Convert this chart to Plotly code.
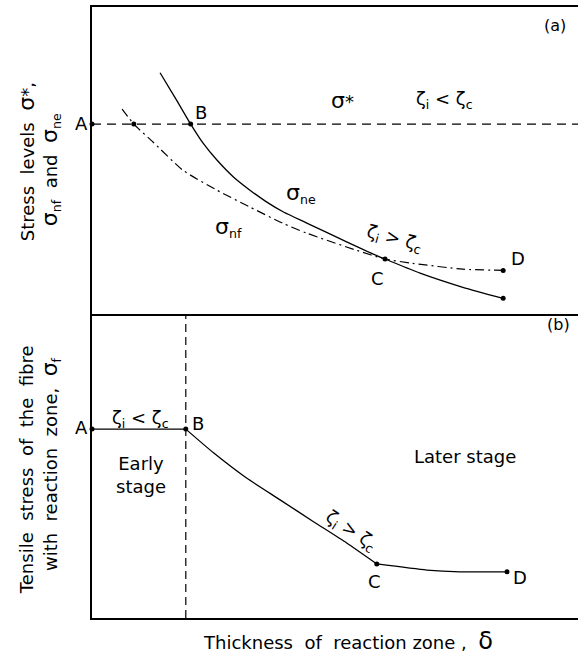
import plotly.graph_objects as go

# ---- data (arbitrary units: thickness delta 0..10, stress 0..10) ----
sigma_star_level = 6.19
sigma_star_x = [0.0, 10.0]

sne_x = [1.40, 1.74, 2.03, 2.29, 2.57, 2.91, 3.25, 3.59, 3.94, 4.42, 5.25, 5.93, 6.03, 6.75, 7.63, 8.46]
sne_y = [7.86, 6.97, 6.19, 5.56, 5.02, 4.47, 4.04, 3.66, 3.33, 2.97, 2.35, 1.86, 1.80, 1.34, 0.88, 0.52]

snf_x = [0.62, 0.86, 1.26, 1.87, 2.57, 3.25, 3.93, 4.42, 5.45, 6.03, 6.60, 7.63, 8.46]
snf_y = [6.68, 6.19, 5.60, 4.69, 4.04, 3.49, 2.96, 2.64, 2.08, 1.80, 1.66, 1.47, 1.43]

top_pts_x = [0.0, 0.86, 2.03, 6.03, 8.46, 8.46]
top_pts_y = [6.19, 6.19, 6.19, 1.80, 1.43, 0.52]

sf_flat_x = [0.0, 1.93]
sf_flat_y = [6.22, 6.22]
sf_bc_x = [1.93, 2.50, 3.18, 3.87, 4.55, 5.24, 5.86]
sf_bc_y = [6.22, 5.44, 4.61, 3.89, 3.18, 2.47, 1.78]
sf_cd_x = [5.86, 6.89, 7.57, 8.54]
sf_cd_y = [1.78, 1.58, 1.52, 1.52]
bot_pts_x = [0.0, 1.93, 5.86, 8.54]
bot_pts_y = [6.22, 6.22, 1.78, 1.52]
stage_boundary_x = 1.93

FONT = "DejaVu Sans, Arial, sans-serif"
FS = 18
fig = go.Figure()

line_k = dict(color="black", width=1.3)
# top panel
fig.add_trace(go.Scatter(x=sigma_star_x, y=[sigma_star_level]*2, mode="lines",
                         line=dict(color="black", width=1.3, dash="9px,6px"), xaxis="x", yaxis="y"))
fig.add_trace(go.Scatter(x=sne_x, y=sne_y, mode="lines",
                         line=dict(line_k, shape="spline", smoothing=0.6), xaxis="x", yaxis="y"))
fig.add_trace(go.Scatter(x=snf_x, y=snf_y, mode="lines",
                         line=dict(color="black", width=1.2, dash="9px,4px,2px,4px", shape="spline", smoothing=0.6),
                         xaxis="x", yaxis="y"))
fig.add_trace(go.Scatter(x=top_pts_x, y=top_pts_y, mode="markers",
                         marker=dict(color="black", size=5), xaxis="x", yaxis="y", cliponaxis=False))
# bottom panel
fig.add_trace(go.Scatter(x=sf_flat_x, y=sf_flat_y, mode="lines", line=line_k, xaxis="x2", yaxis="y2"))
fig.add_trace(go.Scatter(x=sf_bc_x, y=sf_bc_y, mode="lines",
                         line=dict(line_k, shape="spline", smoothing=0.6), xaxis="x2", yaxis="y2"))
fig.add_trace(go.Scatter(x=sf_cd_x, y=sf_cd_y, mode="lines",
                         line=dict(line_k, shape="spline", smoothing=0.6), xaxis="x2", yaxis="y2"))
fig.add_trace(go.Scatter(x=[stage_boundary_x]*2, y=[0, 10], mode="lines",
                         line=dict(color="black", width=1.2, dash="8px,5px"), xaxis="x2", yaxis="y2"))
fig.add_trace(go.Scatter(x=bot_pts_x, y=bot_pts_y, mode="markers",
                         marker=dict(color="black", size=5), xaxis="x2", yaxis="y2", cliponaxis=False))

ann = []
def lab(text, x, y, xref="x", yref="y", size=FS, angle=0, xanchor="center", yanchor="middle", **kw):
    ann.append(dict(text=text, x=x, y=y, xref=xref, yref=yref, showarrow=False, textangle=angle,
                    xanchor=xanchor, yanchor=yanchor, font=dict(family=FONT, size=size, color="black"), **kw))

sig = '<span style="font-size:22px">σ</span>'
# top panel labels
lab("A", 0, 6.22, xanchor="right", xshift=-2)
lab("B", 2.24, 6.58)
lab(sig + "*", 5.16, 6.97)
lab("ζ<sub>i</sub> &lt; ζ<sub>c</sub>", 7.26, 6.97)
lab(sig + "<sub>ne</sub>", 4.30, 3.94)
lab(sig + "<sub>nf</sub>", 2.80, 2.83)
lab("ζ<sub>i</sub> &gt; ζ<sub>c</sub>", 6.23, 2.45, angle=15)
lab("C", 5.88, 1.18)
lab("D", 8.77, 1.82)
lab("(a)", 9.53, 9.41, size=16)
# bottom panel labels
lab("(b)", 9.59, 9.67, xref="x2", yref="y2", size=16)
lab("A", 0, 6.27, xref="x2", yref="y2", xanchor="right", xshift=-2)
lab("B", 2.18, 6.40, xref="x2", yref="y2")
lab("ζ<sub>i</sub> &lt; ζ<sub>c</sub>", 0.99, 6.55, xref="x2", yref="y2")
lab("Early<br>stage", 1.0, 4.72, xref="x2", yref="y2")
lab("Later stage", 7.67, 5.31, xref="x2", yref="y2")
lab("ζ<sub>i</sub> &gt; ζ<sub>c</sub>", 5.33, 2.88, xref="x2", yref="y2", angle=33)
lab("C", 5.82, 1.19, xref="x2", yref="y2")
lab("D", 8.81, 1.32, xref="x2", yref="y2")

# axis titles
lab("Stress  levels  " + sig + "*,", 0.0, 0.746, xref="paper", yref="paper", angle=-90, xshift=-66)
lab(sig + "<sub>nf</sub>  and  " + sig + "<sub>ne</sub>", 0.0, 0.733, xref="paper", yref="paper", angle=-90, xshift=-42)
lab("Tensile  stress  of  the  fibre", 0.0, 0.242, xref="paper", yref="paper", angle=-90, xshift=-66)
lab("with  reaction  zone,  " + sig + "<sub>f</sub>", 0.0, 0.252, xref="paper", yref="paper", angle=-90, xshift=-42)
lab("Thickness  of  reaction zone ,  <span style=\"font-size:24px\">δ</span>", 0.527, 0, xref="paper",
    yref="paper", yanchor="middle", yshift=-23)

axis_common = dict(showgrid=False, zeroline=False, showticklabels=False, ticks="",
                   linecolor="black", linewidth=1.5, showline=True)
fig.update_layout(
    width=578, height=661,
    margin=dict(l=92, r=0, t=7, b=43),
    paper_bgcolor="white", plot_bgcolor="white",
    showlegend=False,
    xaxis=dict(axis_common, range=[0, 10], domain=[0, 1], anchor="y", mirror=True),
    yaxis=dict(axis_common, range=[0, 10], domain=[0.497, 1], anchor="x"),
    xaxis2=dict(axis_common, range=[0, 10], domain=[0, 1], anchor="y2"),
    yaxis2=dict(axis_common, range=[0, 10], domain=[0, 0.497], anchor="x2"),
    annotations=ann,
)
fig.write_html("out.html")
